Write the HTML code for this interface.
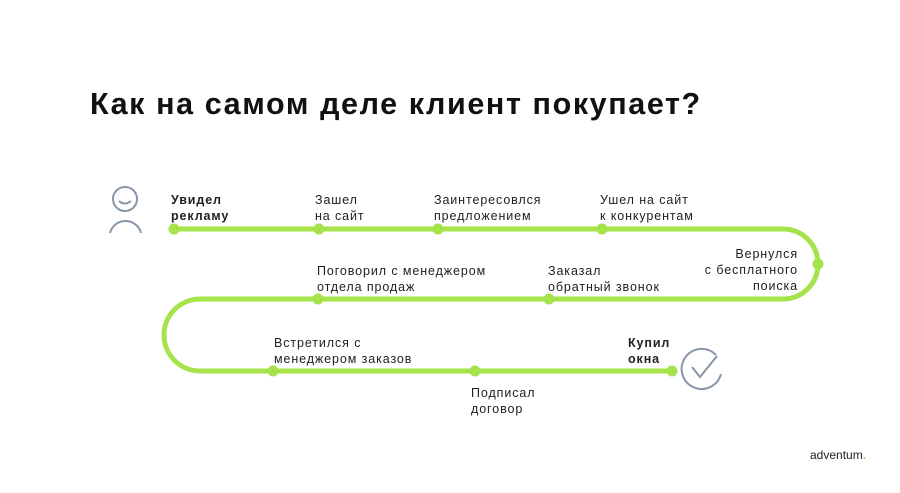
<!DOCTYPE html>
<html><head><meta charset="utf-8"><style>
body{margin:0;width:900px;height:493px;background:#fff;overflow:hidden;position:relative;font-family:"Liberation Sans",sans-serif;color:#222}
.t{position:absolute;font-size:12.5px;line-height:16px;white-space:nowrap;letter-spacing:0.9px}
.b{font-weight:bold}
h1{position:absolute;left:90px;top:87px;margin:0;font-size:30.5px;font-weight:bold;color:#111;letter-spacing:1.6px}
</style></head><body>
<h1>Как на самом деле клиент покупает?</h1>
<svg width="900" height="493" style="position:absolute;left:0;top:0">
<g fill="none" stroke="#a6e34b" stroke-width="5" stroke-linecap="round">
<path d="M174 229 H783 A35 35 0 0 1 783 299 H200 A36 36 0 0 0 200 371 H672"/>
</g>
<g fill="#a6e34b">
<circle cx="174" cy="229" r="5.5"/><circle cx="319" cy="229" r="5.5"/><circle cx="438" cy="229" r="5.5"/><circle cx="602" cy="229" r="5.5"/>
<circle cx="818" cy="264" r="5.5"/><circle cx="549" cy="299" r="5.5"/><circle cx="318" cy="299" r="5.5"/>
<circle cx="273" cy="371" r="5.5"/><circle cx="475" cy="371" r="5.5"/><circle cx="672" cy="371" r="5.5"/>
</g>
<g fill="none" stroke="#8896aa" stroke-width="2">
<circle cx="125" cy="199" r="12"/>
<path d="M119 201 Q125 206 131 201"/>
<path d="M110 233 A16 16 0 0 1 141 233"/>
<path d="M716 355 A20 20 0 1 0 721 374"/>
<path d="M692 367 L700 377 L717 356"/>
</g>
</svg>
<div class="t b" style="left:171px;top:192px">Увидел<br>рекламу</div>
<div class="t" style="left:315px;top:192px">Зашел<br>на сайт</div>
<div class="t" style="left:434px;top:192px">Заинтересовлся<br>предложением</div>
<div class="t" style="left:600px;top:192px">Ушел на сайт<br>к конкурентам</div>
<div class="t" style="left:680px;top:246px;text-align:right;width:118px">Вернулся<br>с бесплатного<br>поиска</div>
<div class="t" style="left:317px;top:263px">Поговорил с менеджером<br>отдела продаж</div>
<div class="t" style="left:548px;top:263px">Заказал<br>обратный звонок</div>
<div class="t" style="left:274px;top:335px">Встретился с<br>менеджером заказов</div>
<div class="t b" style="left:628px;top:335px">Купил<br>окна</div>
<div class="t" style="left:471px;top:385px">Подписал<br>договор</div>
<div class="t" style="left:810px;top:447px;font-size:12px;letter-spacing:0">adventum<span style="color:#8bd13a;font-weight:bold">.</span></div>
</body></html>
